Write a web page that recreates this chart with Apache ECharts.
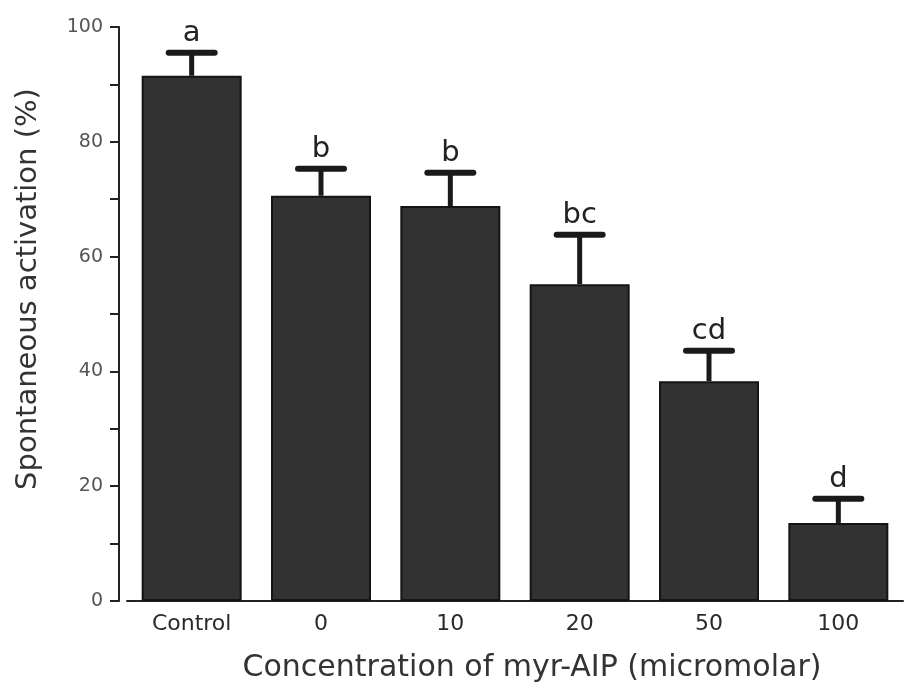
<!DOCTYPE html>
<html>
<head>
<meta charset="utf-8">
<script src="https://cdn.jsdelivr.net/npm/echarts@6/dist/echarts.min.js"></script>
<style>html,body{margin:0;padding:0;background:#fff;}#c{width:908px;height:695px;}</style>
</head>
<body>
<div id="c"></div>
<script>
const categories = ['Control', '0', '10', '20', '50', '100'];
const means = [91.5, 70.6, 68.8, 55.2, 38.3, 13.6];
const errors = [4.0, 4.7, 5.8, 8.6, 5.3, 4.2];
const letters = ['a', 'b', 'b', 'bc', 'cd', 'd'];
const yTicks = [0, 20, 40, 60, 80, 100];

const font = '"DejaVu Sans", "Liberation Sans", Arial, sans-serif';
const chart = echarts.init(document.getElementById('c'), null, {renderer: 'canvas'});
const errData = categories.map((c, i) => [i, means[i], errors[i], letters[i]]);

chart.setOption({
  backgroundColor: '#fff',
  animation: false,
  grid: {left: 127, right: 5, top: 27, bottom: 94},
  xAxis: {
    type: 'category',
    data: categories,
    axisLine: {lineStyle: {color: '#222', width: 2}},
    axisTick: {show: false},
    axisLabel: {color: '#2a2a2a', fontSize: 22, fontFamily: font, margin: 12},
    name: 'Concentration of myr-AIP (micromolar)',
    nameLocation: 'middle',
    nameGap: 52,
    nameTextStyle: {color: '#333', fontSize: 30, fontFamily: font, padding: [0, 0, 0, 34]}
  },
  yAxis: {
    type: 'value',
    min: yTicks[0], max: yTicks[yTicks.length - 1], interval: 20,
    offset: 8,
    axisLine: {show: true, lineStyle: {color: '#222', width: 2}},
    axisTick: {show: true, length: 9, lineStyle: {color: '#222', width: 2}},
    minorTick: {show: true, splitNumber: 2, length: 9, lineStyle: {color: '#222', width: 2}},
    splitLine: {show: false},
    axisLabel: {color: '#555', fontSize: 19, fontFamily: font, margin: 16},
    name: 'Spontaneous activation (%)',
    nameLocation: 'middle',
    nameGap: 76,
    nameTextStyle: {color: '#333', fontSize: 29, fontFamily: font, padding: [0, 0, 0, 50]}
  },
  series: [
    {
      type: 'bar',
      data: means,
      barWidth: 100,
      itemStyle: {color: '#323232', borderColor: '#141414', borderWidth: 2},
      z: 2
    },
    {
      type: 'custom',
      data: errData,
      z: 3,
      renderItem: function (params, api) {
        const idx = api.value(0);
        const m = api.value(1);
        const e = api.value(2);
        const base = api.coord([idx, m]);
        const top = api.coord([idx, m + e]);
        const half = 23;
        return {
          type: 'group',
          children: [
            {type: 'line', shape: {x1: base[0], y1: base[1], x2: top[0], y2: top[1]},
             style: {stroke: '#1a1a1a', lineWidth: 5}},
            {type: 'line', shape: {x1: top[0] - half, y1: top[1], x2: top[0] + half, y2: top[1]},
             style: {stroke: '#1a1a1a', lineWidth: 6, lineCap: 'round'}},
            {type: 'text', x: top[0], y: top[1] - 5,
             style: {text: letters[idx], fill: '#222', fontSize: 29, fontFamily: font,
                     textAlign: 'center', textVerticalAlign: 'bottom'}}
          ]
        };
      }
    }
  ]
});
</script>
</body>
</html>
